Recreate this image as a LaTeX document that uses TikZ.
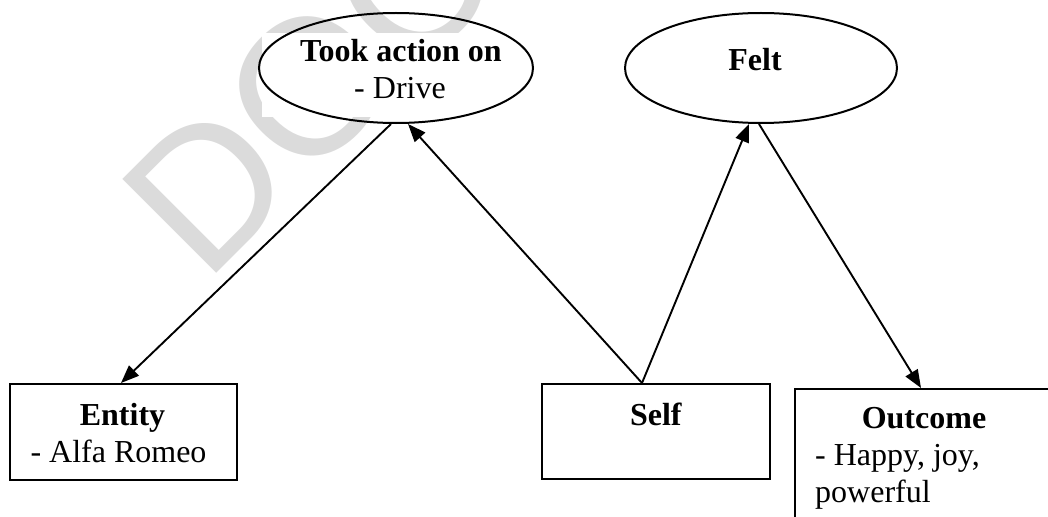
\documentclass[tikz,border=0pt]{standalone}
\usepackage{fontspec}
\setmainfont{Liberation Serif}
\newfontfamily\wmfont{Liberation Sans}
\usetikzlibrary{arrows.meta,shapes.geometric}
\begin{document}
\begin{tikzpicture}[x=1pt,y=-1pt,
  oval/.style={draw, ellipse, line width=2pt, inner sep=0pt},
  boxnode/.style={draw, rectangle, line width=2pt, inner sep=0pt},
  lbl/.style={anchor=base, inner sep=0pt, font=\fontsize{32}{37}\selectfont},
  lblw/.style={anchor=base west, inner sep=0pt, font=\fontsize{32}{37}\selectfont},
  conn/.style={line width=1.9pt, -{Triangle[length=18pt,width=14pt]}},
  wm/.style={anchor=base west, inner sep=0pt, rotate=45, text=black!14,
    font=\fontsize{193}{193}\selectfont\wmfont}]
\useasboundingbox (0,0) rectangle (1048,516);
\clip (0,0) rectangle (1048,516);
% watermark
\node[wm] (wm) at (205,285) {DOC};
\fill[white] (262,33) rectangle (530,117);
% shapes
\node[oval, minimum width=274pt, minimum height=110pt] (took) at (396,68) {};
\node[oval, minimum width=272pt, minimum height=110pt] (felt) at (761,68) {};
\node[boxnode, minimum width=227pt, minimum height=96pt] (entity) at (123.5,432) {};
\node[boxnode, minimum width=228pt, minimum height=95pt] (self) at (656,431.5) {};
\node[boxnode, minimum width=258pt, minimum height=180pt] (outcome) at (924,479) {};
% texts
\node[lbl] (t1) at (401,62) {\textbf{Took action on}};
\node[lbl] (t2) at (400,99) {- Drive};
\node[lbl] (t3) at (755,71) {\textbf{Felt}};
\node[lbl] (t4) at (122.5,425) {\textbf{Entity}};
\node[lbl] (t5) at (118.5,462) {- Alfa Romeo};
\node[lbl] (t6) at (656,425) {\textbf{Self}};
\node[lbl] (t7) at (924,428) {\textbf{Outcome}};
\node[lblw] (t8) at (815,465) {- Happy, joy,};
\node[lblw] (t9) at (815,502) {powerful};
% connectors
\draw[conn] ([xshift=-5pt]took.south) -- ([xshift=-2.5pt]entity.north);
\draw[conn] ([xshift=-14pt]self.north) -- ([xshift=12pt]took.south);
\draw[conn] ([xshift=-14pt]self.north) -- ([xshift=-12pt]felt.south);
\draw[conn] ([xshift=-2pt]felt.south) -- ([xshift=-3pt]outcome.north);
\end{tikzpicture}
\end{document}
